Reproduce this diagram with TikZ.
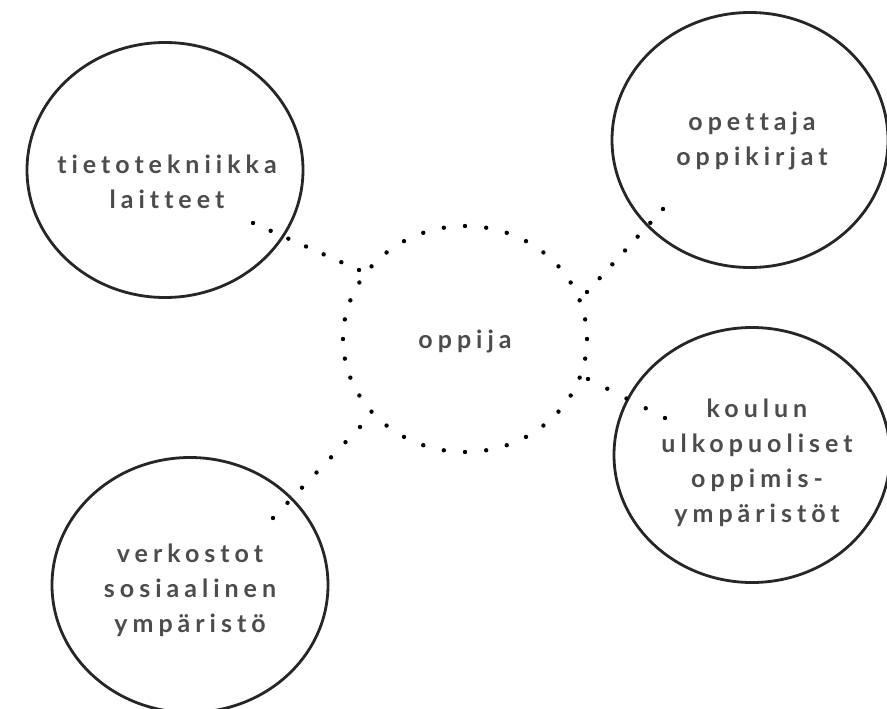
\documentclass[tikz,border=0pt]{standalone}
\usepackage{fontspec}
\setmainfont{Lato}[LetterSpace=20,Ligatures=NoCommon]
\usetikzlibrary{shapes.geometric,calc}
\begin{document}
\begin{tikzpicture}[x=1pt,y=-1pt,
  bubble/.style={ellipse,draw=black!85,line width=2.8pt,minimum width=276pt,minimum height=255pt,inner sep=0pt},
  hub/.style={ellipse,minimum width=244pt,minimum height=226pt,inner sep=0pt},
  lbl/.style={align=center,text=black!70,inner sep=0pt,font=\fontsize{25}{35}\selectfont\bfseries},
  dotc/.style={fill=black}]
\useasboundingbox (0,0) rectangle (887,709);
% outer bubbles
\node[bubble] (tl) at (165,170) {};
\node[bubble] (tr) at (750,140) {};
\node[bubble] (rm) at (752,455) {};
\node[bubble] (bl) at (190,585) {};
% hub
\node[hub] (c) at (465,339) {};
\foreach \a in {0,10,...,350} \fill[dotc] ($(c)+(\a:122 and 113)$) circle (2.2);
% labels
\node[lbl] (tlt) at (167,182) {tietotekniikka\\laitteet};
\node[lbl] (trt) at (752,141) {opettaja\\oppikirjat};
\node[lbl] (rmt) at (757,463) {koulun\\ulkopuoliset\\oppimis-\\ympäristöt};
\node[lbl] (blt) at (190,590) {verkostot\\sosiaalinen\\ympäristö};
\node[lbl] (ct) at (465,341) {oppija};
% dotted connectors
\coordinate (a1) at (253,223); \coordinate (b1) at (359,270);
\coordinate (a2) at (663,209); \coordinate (b2) at (587,292);
\coordinate (a3) at (665,418); \coordinate (b3) at (588,379);
\coordinate (a4) at (273,518); \coordinate (b4) at (360,427);
\foreach \t in {0,...,6} \fill[dotc] ($(a1)!\t/6!(b1)$) circle (2.2);
\foreach \t in {0,...,6} \fill[dotc] ($(a2)!\t/6!(b2)$) circle (2.2);
\foreach \t in {0,...,4} \fill[dotc] ($(a3)!\t/4!(b3)$) circle (2.2);
\foreach \t in {0,...,6} \fill[dotc] ($(a4)!\t/6!(b4)$) circle (2.2);
\end{tikzpicture}
\end{document}
